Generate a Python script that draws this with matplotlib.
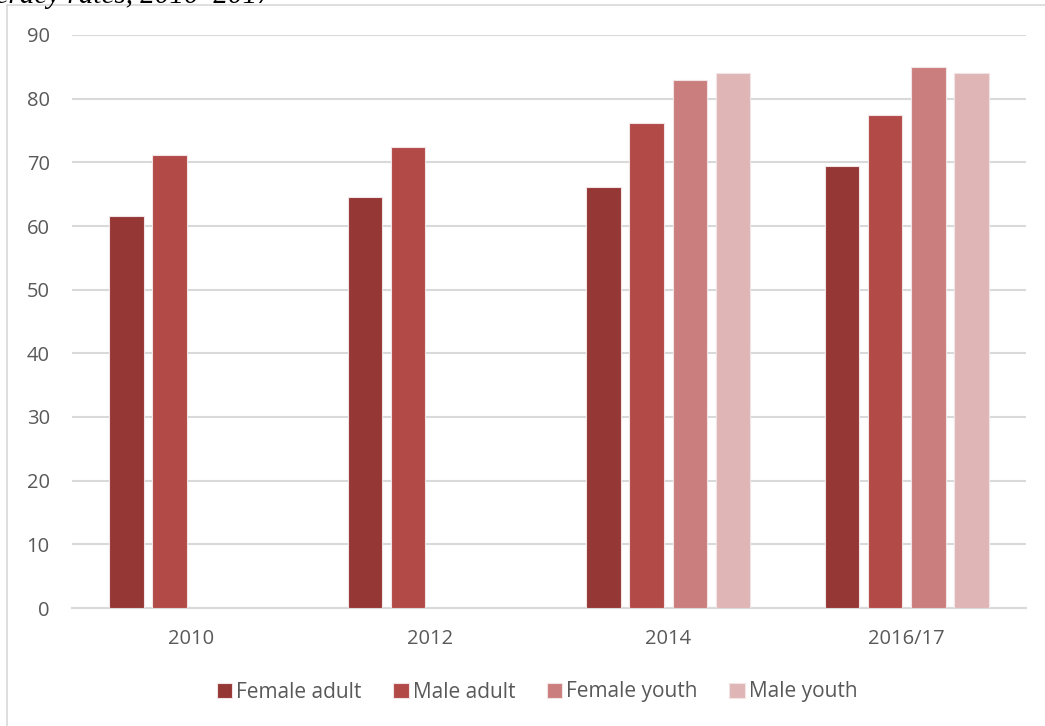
import matplotlib
matplotlib.use("Agg")
import matplotlib.pyplot as plt
from matplotlib.lines import Line2D
import numpy as np

# Literacy rates by survey year and group
years = ["2010", "2012", "2014", "2016/17"]
female_adult = [61.5, 64.6, 66.1, 69.4]
male_adult = [71.1, 72.4, 76.1, 77.5]
female_youth = [np.nan, np.nan, 83.0, 85.0]
male_youth = [np.nan, np.nan, 84.0, 84.0]
series_names = ["Female adult", "Male adult", "Female youth", "Male youth"]
series_colors = ["#943735", "#B24A47", "#CA7E7D", "#DFB5B5"]
y_ticks = [0, 10, 20, 30, 40, 50, 60, 70, 80, 90]

font = "Open Sans"
text_color = "#595959"

fig = plt.figure(figsize=(10.45, 7.26), dpi=100)
ax = fig.add_axes([72 / 1045, 1 - 608 / 726, 954 / 1045, 573 / 726])

x = np.arange(len(years))
pitch = 43.3 / 238.5
width = 34.5 / 238.5
all_series = [female_adult, male_adult, female_youth, male_youth]
for i, (vals, name, col) in enumerate(zip(all_series, series_names, series_colors)):
    offs = (i - 1.5) * pitch
    ax.bar(x + offs, vals, width=width, color=col, label=name,
           edgecolor="#F2E4E4", linewidth=0.8, zorder=3)

ax.set_xlim(-0.5, len(years) - 0.5)
ax.set_ylim(0, 90)
ax.set_yticks(y_ticks)
ax.set_xticks(x)
ax.set_xticklabels(years)
ax.yaxis.grid(True, color="#D9D9D9", linewidth=1.5, zorder=0)
ax.set_axisbelow(True)
for s in ["top", "right", "left"]:
    ax.spines[s].set_visible(False)
ax.spines["bottom"].set_color("#D9D9D9")
ax.spines["bottom"].set_linewidth(1.5)
ax.tick_params(axis="both", length=0, labelsize=14.5, labelcolor=text_color)
ax.tick_params(axis="y", pad=16)
ax.tick_params(axis="x", pad=15)
for lbl in ax.get_xticklabels() + ax.get_yticklabels():
    lbl.set_fontfamily(font)

leg = fig.legend(loc="center", bbox_to_anchor=(537 / 1045, 1 - 692 / 726), ncol=4,
                 frameon=False, handlelength=0.75, handleheight=0.75,
                 handletextpad=0.2, columnspacing=1.5,
                 prop={"family": font, "size": 15})
for t in leg.get_texts():
    t.set_color(text_color)

# chart box outline
fig.add_artist(Line2D([7 / 1045, 7 / 1045], [0, 1 - 5 / 726], transform=fig.transFigure,
                      color="#D9D9D9", linewidth=1.2))
fig.add_artist(Line2D([7 / 1045, 1], [1 - 5 / 726, 1 - 5 / 726], transform=fig.transFigure,
                      color="#D9D9D9", linewidth=1.2))

# caption line above the chart
fig.text(-0.035, 1 + 4 / 726, "Literacy rates, 2010–2017", fontfamily="Liberation Serif",
         fontstyle="italic", fontsize=21, va="center", ha="left", color="black")

fig.savefig("out.png", dpi=100)
